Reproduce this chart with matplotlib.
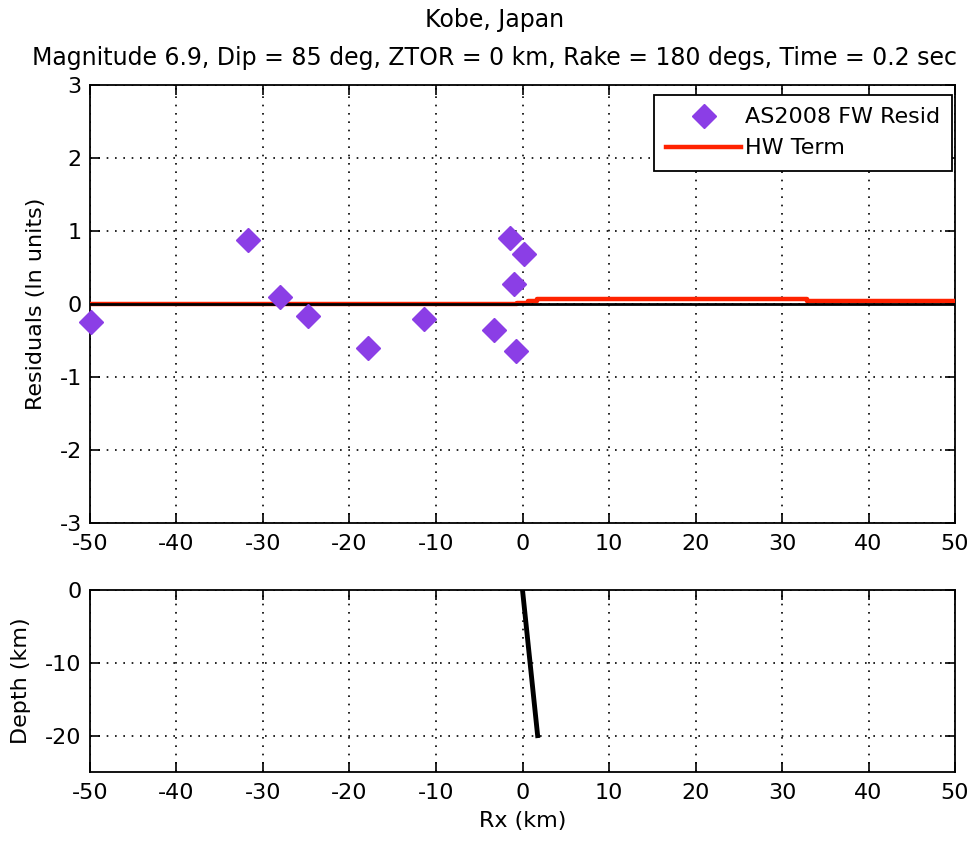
import numpy as np
import matplotlib
matplotlib.use("Agg")
import matplotlib.pyplot as plt

plt.rcParams['font.family'] = ['DejaVu Sans']
plt.rcParams['axes.unicode_minus'] = False

# residuals (AS2008 footwall)
rx_resid = [-49.9, -31.7, -28.0, -24.8, -17.9, -11.4, -3.3, -1.4, 0.2, -1.0, -0.75]
resid = [-0.24, 0.88, 0.09, -0.17, -0.60, -0.21, -0.35, 0.90, 0.68, 0.27, -0.65]

# hanging wall term (step)
hw_x = [-50, -0.6, -0.6, 0.6, 0.6, 1.7, 1.7, 32.9, 32.9, 50]
hw_y = [0.0, 0.0, 0.02, 0.02, 0.04, 0.04, 0.07, 0.07, 0.035, 0.035]

# fault trace
fault_x = [0.0, 1.75]
fault_depth = [0.0, -20.0]

title_lines = ["Kobe, Japan",
               "Magnitude 6.9, Dip = 85 deg, ZTOR = 0 km, Rake = 180 degs, Time = 0.2 sec"]

fig = plt.figure(figsize=(9.76, 8.42), dpi=100)
ax1 = fig.add_axes([0.0922, 0.3789, 0.8863, 0.5201])
ax2 = fig.add_axes([0.0922, 0.0831, 0.8863, 0.2162])

grid_kw = dict(color='black', linestyle=(0, (1, 4)), linewidth=1.2)

def style(ax):
    ax.tick_params(direction='in', length=7, width=1.2, top=True, right=True,
                   labelsize=16)
    ax.tick_params(axis='x', pad=8)
    ax.tick_params(axis='y', pad=6)
    for s in ax.spines.values():
        s.set_linewidth(1.3)
    ax.grid(True, **grid_kw)
    ax.set_axisbelow(True)

# top panel
ax1.plot(hw_x, hw_y, color='#ff2200', linewidth=3.2, label='HW Term', zorder=3)
ax1.axhline(0, color='black', linewidth=2, zorder=4)
ax1.plot(rx_resid, resid, linestyle='none', marker='D', markersize=12,
         color='#8b3ee6', markeredgecolor='#8b3ee6', label='AS2008 FW Resid',
         zorder=5, clip_on=False)
ax1.set_xlim(-50, 50)
ax1.set_ylim(-3, 3)
ax1.set_xticks(np.arange(-50, 51, 10))
ax1.set_yticks(np.arange(-3, 4, 1))
ax1.set_ylabel('Residuals (ln units)', fontsize=16, labelpad=10)
style(ax1)
handles, labels = ax1.get_legend_handles_labels()
leg = ax1.legend([handles[1], handles[0]], ['AS2008 FW Resid', 'HW Term'],
                 loc='upper right', bbox_to_anchor=(0.9965, 0.977),
                 borderaxespad=0, fontsize=16, fancybox=False, framealpha=1,
                 edgecolor='black', handlelength=3.4, borderpad=0.55,
                 handletextpad=0.15, labelspacing=0.5)
leg.get_frame().set_linewidth(1.3)

fig.text(495 / 976, 1 - 20 / 842, title_lines[0], fontsize=17, ha='center', va='center')
fig.text(495 / 976, 1 - 58 / 842, title_lines[1], fontsize=17, ha='center', va='center')

# bottom panel
ax2.plot(fault_x, fault_depth, color='black', linewidth=3.5)
ax2.set_xlim(-50, 50)
ax2.set_ylim(-25, 0)
ax2.set_xticks(np.arange(-50, 51, 10))
ax2.set_yticks([-20, -10, 0])
ax2.set_ylabel('Depth (km)', fontsize=16, labelpad=10)
ax2.set_xlabel('Rx (km)', fontsize=16, labelpad=6)
style(ax2)

fig.savefig('out.png', dpi=100)
